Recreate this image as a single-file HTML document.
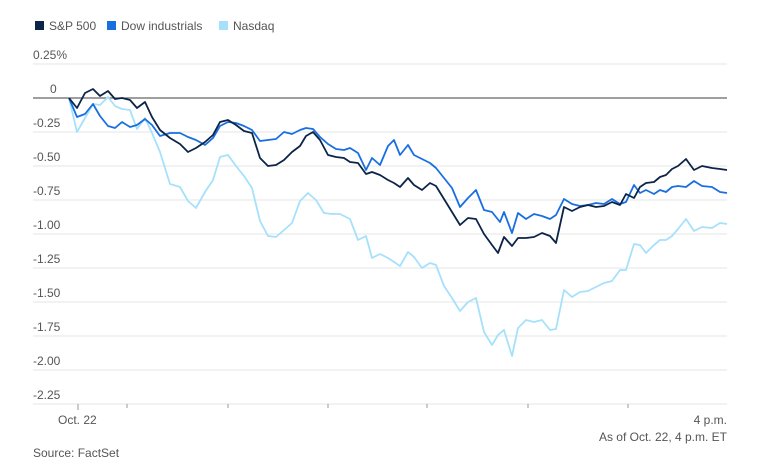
<!DOCTYPE html>
<html><head><meta charset="utf-8"><style>
body{margin:0;background:#fff;}
svg{display:block;font-family:"Liberation Sans",sans-serif;}
</style></head><body>
<svg width="769" height="472" viewBox="0 0 769 472">
<g font-size="12" fill="#555">
<rect x="35" y="21" width="9" height="9" fill="#0b2447"/><text x="49" y="30">S&amp;P 500</text>
<rect x="107" y="21" width="9" height="9" fill="#1a6fe0"/><text x="121" y="30">Dow industrials</text>
<rect x="219" y="21" width="9" height="9" fill="#a6e1fb"/><text x="233" y="30">Nasdaq</text>
</g>
<g stroke="#e6e6e6" stroke-width="1">
<line x1="33" x2="727" y1="64" y2="64"/><line x1="33" x2="727" y1="132" y2="132"/>
<line x1="33" x2="727" y1="166" y2="166"/><line x1="33" x2="727" y1="200" y2="200"/>
<line x1="33" x2="727" y1="234" y2="234"/><line x1="33" x2="727" y1="268" y2="268"/>
<line x1="33" x2="727" y1="302" y2="302"/><line x1="33" x2="727" y1="336" y2="336"/>
<line x1="33" x2="727" y1="370" y2="370"/><line x1="33" x2="727" y1="404" y2="404"/>
</g>
<line x1="33" x2="727" y1="98" y2="98" stroke="#666" stroke-width="1.2"/>
<g font-size="12" fill="#555">
<text x="33" y="59">0.25%</text><text x="50" y="93">0</text>
<text x="33" y="127">-0.25</text><text x="33" y="161">-0.50</text>
<text x="33" y="195">-0.75</text><text x="33" y="229">-1.00</text>
<text x="33" y="263">-1.25</text><text x="33" y="297">-1.50</text>
<text x="33" y="331">-1.75</text><text x="33" y="365">-2.00</text>
<text x="33" y="399">-2.25</text>
<text x="58" y="424">Oct. 22</text>
<text x="727" y="424" text-anchor="end">4 p.m.</text>
<text x="727" y="441" text-anchor="end">As of Oct. 22, 4 p.m. ET</text>
<text x="33" y="457">Source: FactSet</text>
</g>
<g stroke="#999" stroke-width="1">
<line x1="78" x2="78" y1="404" y2="410"/><line x1="127" x2="127" y1="404" y2="408"/>
<line x1="228" x2="228" y1="404" y2="408"/><line x1="328" x2="328" y1="404" y2="408"/>
<line x1="427" x2="427" y1="404" y2="408"/><line x1="528" x2="528" y1="404" y2="408"/>
<line x1="628" x2="628" y1="404" y2="408"/>
</g>
<g fill="none" stroke-width="1.8" stroke-linejoin="round">
<polyline stroke="#a6e1fb" points="69,98 77,132 85,118 93,104 100,105 108,97 115,106 122,109 130,110 137,129 145,118 152,133 160,152 170,184 180,187 188,201 196,208 205,192 213,180 220,157 228,155 236,166 244,176 252,188 260,221 268,236 276,237 284,230 292,223 300,201 308,193 316,200 324,213 332,214 340,214 350,219 358,240 366,236 372,258 380,254 388,258 394,262 400,266 408,252 414,257 422,268 430,263 436,265 444,286 452,298 460,311 468,302 476,298 484,332 492,345 498,335 504,330 512,356 518,328 526,320 534,322 542,320 550,330 556,329 564,290 572,297 580,292 588,291 596,287 604,283 612,281 620,270 626,270 634,244 640,245 646,253 654,245 660,240 666,240 672,236 678,229 686,219 694,231 702,227 712,228 720,223 727,224"/>
<polyline stroke="#1a6fe0" points="69,98 77,117 85,114 93,104 100,116 108,126 115,128 122,122 130,127 137,125 145,119 152,125 160,136 170,133 180,133 188,137 196,140 205,145 213,138 220,126 228,122 236,123 244,126 252,130 260,141 268,140 276,139 284,132 292,134 300,130 306,128 313,129 320,137 328,144 336,149 344,150 350,148 358,153 366,170 372,158 380,165 388,146 394,140 400,155 408,145 414,155 422,159 430,163 436,168 444,178 452,188 460,207 468,198 476,190 484,210 492,212 500,222 504,212 512,233 518,213 526,219 534,214 542,216 550,219 556,215 564,199 572,204 580,206 588,205 596,203 604,204 612,199 620,204 626,202 634,185 640,193 646,190 654,194 660,190 666,192 672,187 678,186 686,187 694,181 702,186 712,187 720,192 727,193"/>
<polyline stroke="#0b2447" points="69,98 77,108 85,93 93,89 100,96 108,91 115,99 122,98 130,100 137,108 145,102 152,117 160,130 170,138 180,144 188,152 196,148 205,142 213,135 220,122 228,120 236,125 244,131 252,133 260,158 268,166 276,165 284,160 292,152 300,146 306,136 313,132 320,140 328,155 336,157 344,158 350,162 358,163 366,174 372,172 380,175 388,180 394,183 400,187 408,178 414,185 422,190 430,183 436,186 444,199 452,212 460,225 468,218 476,219 484,234 492,245 498,253 504,237 512,246 518,238 526,238 534,237 542,233 550,236 556,243 564,207 572,211 580,207 588,205 596,207 604,206 612,202 620,205 626,194 634,198 640,187 646,183 654,182 660,177 666,175 672,169 678,166 686,159 694,170 702,166 712,168 720,169 727,170"/>
</g>
</svg>
</body></html>
